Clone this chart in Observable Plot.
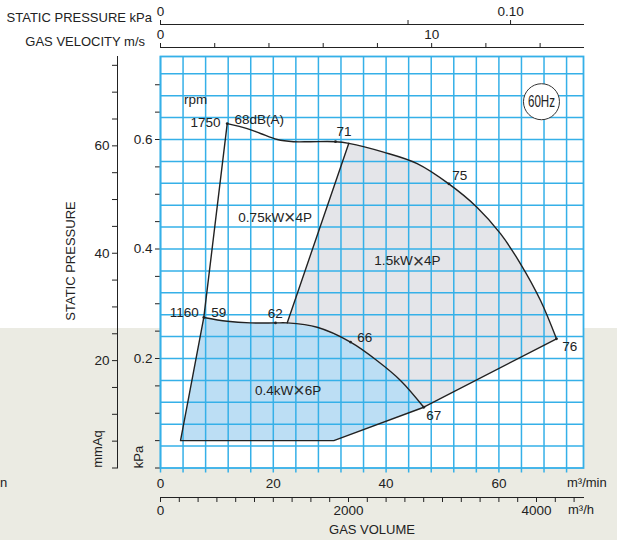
<!DOCTYPE html>
<html><head><meta charset="utf-8">
<script src="https://cdn.jsdelivr.net/npm/d3@7"></script>
<script src="https://cdn.jsdelivr.net/npm/@observablehq/plot@0.6"></script>
<style>
html,body{margin:0;padding:0;}
body{width:617px;height:540px;overflow:hidden;background:linear-gradient(to bottom,#ffffff 0,#ffffff 328px,#ebebe3 328px);font-family:"Liberation Sans",Arial,Helvetica,sans-serif;color:#222;}
#wrap{position:relative;width:617px;height:540px;}
#wrap svg{position:absolute;left:0;top:0;overflow:visible;}
.lbl{position:absolute;font-size:13px;white-space:nowrap;line-height:1;}
.rot{transform:translate(-50%,-50%) rotate(-90deg);}
</style></head><body><div id="wrap">
<div class="lbl" style="right:465px;top:11px;">STATIC PRESSURE kPa</div>
<div class="lbl" style="right:472px;top:35px;">GAS VELOCITY m/s</div>
<div class="lbl rot" style="left:70px;top:261px;">STATIC PRESSURE</div>
<div class="lbl rot" style="left:97px;top:449px;">mmAq</div>
<div class="lbl rot" style="left:138px;top:457px;">kPa</div>
<div class="lbl" style="left:567px;top:476px;">m³/min</div>
<div class="lbl" style="left:568px;top:503px;">m³/h</div>
<div class="lbl" style="left:372px;top:523px;transform:translateX(-50%);">GAS VOLUME</div>
<div class="lbl" style="left:0px;top:476px;">n</div>
</div>
<script>
// ---------- data (gas volume Q in m³/min, static pressure P in kPa) ----------
const q1750 = [11.83, 15.37, 17.73, 20.69, 23.58, 26.60, 31.03, 33.39, 39.54, 45.51, 51.12, 56.15, 60.28, 63.83, 67.38, 70.21];
const p1750 = [0.629, 0.620, 0.611, 0.600, 0.596, 0.596, 0.596, 0.593, 0.577, 0.556, 0.519, 0.476, 0.428, 0.373, 0.306, 0.236];
const q1160 = [7.68, 11.83, 15.96, 20.39, 22.46, 27.78, 33.69, 38.42, 42.55, 46.68];
const p1160 = [0.275, 0.268, 0.265, 0.265, 0.265, 0.257, 0.230, 0.196, 0.160, 0.111];
const qLimit = [70.21, 46.68, 30.73, 3.55, 7.68, 11.83];
const pLimit = [0.236, 0.111, 0.050, 0.050, 0.275, 0.629];
const qSplit = [22.46, 33.39];
const pSplit = [0.265, 0.593];

const dotQ = [11.83, 31.03, 51.12, 70.21, 7.68, 20.39, 33.69, 46.68];
const dotP = [0.629, 0.596, 0.519, 0.236, 0.275, 0.265, 0.230, 0.111];

const labelText   = ["rpm", "1750", "68dB(A)", "71", "75", "76", "1160", "59", "62", "66", "67", "0.75kW×4P", "1.5kW×4P", "0.4kW×6P"];
const labelQ      = [6.21, 10.64, 13.12, 31.21, 51.72, 71.22, 6.79, 8.99, 19.02, 34.88, 47.11, 20.34, 43.79, 22.64];
const labelP      = [0.673, 0.630, 0.6365, 0.6146, 0.534, 0.2225, 0.2835, 0.284, 0.2816, 0.2378, 0.0959, 0.4581, 0.3785, 0.1416];
const labelAnchor = ["middle", "end", "start", "start", "start", "start", "end", "start", "start", "start", "start", "middle", "middle", "middle"];

const hzText = ["60Hz"];
const hzQ = [67.55];
const hzP = [0.669];

const gridQ = [0, 4, 8, 12, 16, 20, 24, 28, 32, 36, 40, 44, 48, 52, 56, 60, 64, 68, 72];
const gridP = [0.04, 0.08, 0.12, 0.16, 0.20, 0.24, 0.28, 0.32, 0.36, 0.40, 0.44, 0.48, 0.52, 0.56, 0.60, 0.64, 0.68, 0.72];
const kPaTicks = [0, 0.05, 0.1, 0.15, 0.2, 0.25, 0.3, 0.35, 0.4, 0.45, 0.5, 0.55, 0.6, 0.65, 0.7];
const kPaLabels = [0.2, 0.4, 0.6];
const mmAqTicks = [0, 5, 10, 15, 20, 25, 30, 35, 40, 45, 50, 55, 60, 65, 70, 75];
const mmAqLabels = [20, 40, 60];
const flowTicks = [0, 20, 40, 60];
const flowHourTicks = [0, 200, 400, 600, 800, 1000, 1200, 1400, 1600, 1800, 2000, 2200, 2400, 2600, 2800, 3000, 3200, 3400, 3600, 3800, 4000, 4200, 4400];
const flowHourLabels = [0, 2000, 4000];
const velTicks = [0, 2, 4, 6, 8, 10, 12, 14];
const velLabels = [0, 10];
const dynTicks = [0, 0.05, 0.10];
const dynLabels = ["0", "", "0.10"];

// ---------- layout ----------
const W = 617, H = 540, ML = 160, MR = 34, MT = 56, MB = 72.5;
const pxPerKPa = 547.5;
const yTop = (H - MB - MT) / pxPerKPa;      // kPa at top of frame
const xTop = 75;                             // m³/min at right of frame
const KPA_TO_MMAQ = 101.972;
const vMax = 15.6;
const pDynMax = 0.6 * vMax * vMax / 1000;
const FONT = '"Liberation Sans", Arial, Helvetica, sans-serif';
const FS = 13.5;
const GRID = "#35b0e8";
const INK = "#222222";
const baseStyle = {background: "transparent", fontFamily: FONT, fontSize: FS + "px", color: "#222", overflow: "visible"};

const pts = (qs, ps) => qs.map((q, i) => ({q, p: ps[i]}));
const c1750 = pts(q1750, p1750), c1160 = pts(q1160, p1160), limit = pts(qLimit, pLimit), split = pts(qSplit, pSplit);
const grayPoly = [split[0], ...c1750.filter(d => d.q >= qSplit[1]), limit[1], ...c1160.filter(d => d.q >= qSplit[0]).reverse()];
const bluePoly = [...c1160, limit[2], limit[3], limit[4]];
const labels = labelText.map((t, i) => ({t, q: labelQ[i], p: labelP[i], a: labelAnchor[i]}));
const hz = hzText.map((t, i) => ({t, q: hzQ[i], p: hzP[i]}));

const main = Plot.plot({
  width: W, height: H, marginLeft: ML, marginRight: MR, marginTop: MT, marginBottom: MB,
  style: baseStyle,
  x: {domain: [0, xTop], ticks: flowTicks, tickSize: 0, tickPadding: 10, label: null},
  y: {domain: [0, yTop], ticks: kPaTicks, tickSize: 5, tickPadding: 3, label: null,
      tickFormat: d => kPaLabels.some(v => Math.abs(v - d) < 1e-9) ? d.toFixed(1) : ""},
  marks: [
    Plot.frame({fill: "white", stroke: "none"}),
    Plot.line(grayPoly, {x: "q", y: "p", fill: "#e4e5e9", stroke: "none"}),
    Plot.line(bluePoly, {x: "q", y: "p", fill: "#bcdef4", stroke: "none"}),
    Plot.ruleX(gridQ, {stroke: GRID, strokeWidth: 1.5, insetBottom: -5}),
    Plot.ruleY(gridP, {stroke: GRID, strokeWidth: 1.5}),
    Plot.frame({stroke: GRID, strokeWidth: 1.8}),
    Plot.line(c1750, {x: "q", y: "p", stroke: INK, strokeWidth: 1.4, curve: "catmull-rom"}),
    Plot.line(c1160, {x: "q", y: "p", stroke: INK, strokeWidth: 1.4, curve: "catmull-rom"}),
    Plot.line(limit, {x: "q", y: "p", stroke: INK, strokeWidth: 1.4}),
    Plot.line(split, {x: "q", y: "p", stroke: INK, strokeWidth: 1.4}),
    Plot.dot(pts(dotQ, dotP), {x: "q", y: "p", r: 1.4, fill: INK, stroke: "none"}),
    Plot.text(labels.filter(d => d.a === "start"), {x: "q", y: "p", text: "t", textAnchor: "start", fill: "#222", fontSize: FS}),
    Plot.text(labels.filter(d => d.a === "end"), {x: "q", y: "p", text: "t", textAnchor: "end", fill: "#222", fontSize: FS}),
    Plot.text(labels.filter(d => d.a === "middle"), {x: "q", y: "p", text: "t", textAnchor: "middle", fill: "#222", fontSize: FS}),
    Plot.dot(hz, {x: "q", y: "p", r: 18, fill: "white", stroke: "#333", strokeWidth: 1}),
    Plot.text(hz, {x: "q", y: "p", text: "t", fill: "#222", fontSize: 17})
  ]
});

// enlarge the thin multiplication cross and condense "60Hz" like the printed chart
d3.select(main).selectAll("text").each(function() {
  const el = d3.select(this);
  const s = el.text();
  if (s.includes("×")) {
    const parts = s.split("×");
    el.text(null);
    el.append("tspan").text(parts[0]);
    el.append("tspan").attr("font-size", "1.45em").attr("font-weight", "300").attr("fill", "#333").attr("dy", "2.5").text("×");
    el.append("tspan").attr("dy", "-2.5").text(parts[1]);
  } else if (s === "60Hz") {
    el.attr("textLength", 27).attr("lengthAdjust", "spacingAndGlyphs");
  }
});

const mmAq = Plot.plot({
  width: W, height: H, marginLeft: 117, marginRight: W - 118, marginTop: MT, marginBottom: MB,
  style: baseStyle,
  y: {domain: [0, yTop * KPA_TO_MMAQ], ticks: mmAqTicks, tickSize: 5, tickPadding: 3, line: true, label: null,
      tickFormat: d => mmAqLabels.includes(d) ? String(d) : ""},
  marks: [Plot.ruleY(mmAqTicks, {strokeOpacity: 0})]
});

const perHour = Plot.plot({
  width: W, height: H, marginLeft: ML, marginRight: MR, marginTop: 496, marginBottom: H - 497,
  style: baseStyle,
  x: {domain: [0, xTop * 60], ticks: flowHourTicks, tickSize: 5, tickPadding: 3, line: true, label: null,
      tickFormat: d => flowHourLabels.includes(d) ? String(d) : ""},
  marks: [Plot.ruleX(flowHourTicks, {strokeOpacity: 0})]
});

const velocity = Plot.plot({
  width: W, height: 70, marginLeft: ML, marginRight: MR, marginTop: 47, marginBottom: 22,
  style: baseStyle,
  x: {axis: "top", domain: [0, vMax], ticks: velTicks, tickSize: 5, tickPadding: 4, line: true, label: null,
      tickFormat: d => velLabels.includes(d) ? String(d) : ""},
  marks: [Plot.ruleX(velTicks, {strokeOpacity: 0})]
});

const dynamic = Plot.plot({
  width: W, height: 50, marginLeft: ML, marginRight: MR, marginTop: 24, marginBottom: 25,
  style: baseStyle,
  x: {axis: "top", type: "sqrt", domain: [0, pDynMax], ticks: dynTicks, tickSize: 5, tickPadding: 4, line: true, label: null,
      tickFormat: d => dynLabels[dynTicks.indexOf(d)] ?? ""},
  marks: [Plot.ruleX(dynTicks, {strokeOpacity: 0})]
});

const wrap = document.getElementById("wrap");
[main, mmAq, perHour, velocity, dynamic].forEach(s => wrap.appendChild(s));
</script></body></html>
